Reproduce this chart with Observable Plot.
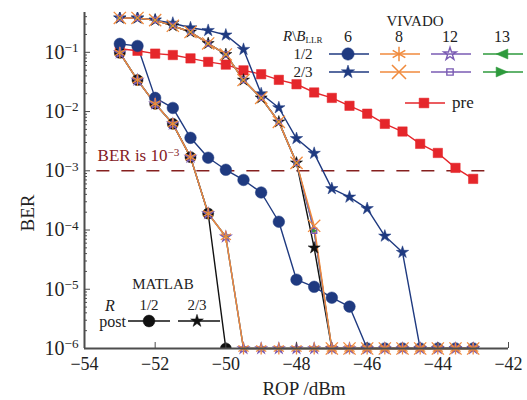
<!DOCTYPE html>
<html><head><meta charset="utf-8">
<script src="https://cdn.jsdelivr.net/npm/d3@7"></script>
<script src="https://cdn.jsdelivr.net/npm/@observablehq/plot@0.6"></script>
<style>
body{margin:0;background:#fff;}
#wrap{position:relative;width:527px;height:400px;font-family:"Liberation Serif",serif;}
#wrap svg{position:absolute;left:0;top:0;}
</style></head><body><div id="wrap"></div>
<script>
// ROP values (dBm)
const rop = [-53,-52.5,-52,-51.5,-51,-50.5,-50,-49.5,-49,-48.5,-48,-47.5,-47,-46.5,-46,-45.5,-45,-44.5,-44,-43.5,-43];
// pre-FEC BER
const pre = [0.115,0.106,0.095,0.090,0.079,0.069,0.062,0.0496,0.0427,0.0343,0.0289,0.021,0.0170,0.0125,0.0092,0.0062,0.0046,0.00285,0.0020,0.00112,0.00073];
// VIVADO, R = 1/2
const viv12_b6  = [0.139,0.128,0.0170,0.0115,0.0036,0.00166,0.00104,0.00070,0.00043,0.000138,1.45e-5,1.1e-5,7.2e-6,5.1e-6,1e-6,1e-6,1e-6,1e-6,1e-6,1e-6,1e-6];
const viv12_b8  = [0.098,0.034,0.0135,0.0062,0.0017,1.9e-4,7.7e-5,1e-6,1e-6,1e-6,1e-6,1e-6,1e-6,1e-6,1e-6,1e-6,1e-6,1e-6,1e-6,1e-6,1e-6];
const viv12_b12 = [0.098,0.034,0.0135,0.0062,0.0017,1.9e-4,7.7e-5,1e-6,1e-6,1e-6,1e-6,1e-6,1e-6,1e-6,1e-6,1e-6,1e-6,1e-6,1e-6,1e-6,1e-6];
const viv12_b13 = [0.098,0.034,0.0135,0.0062,0.0017,1.9e-4,7.7e-5,1e-6,1e-6,1e-6,1e-6,1e-6,1e-6,1e-6,1e-6,1e-6,1e-6,1e-6,1e-6,1e-6,1e-6];
// VIVADO, R = 2/3
const viv23_b6  = [0.38,0.38,0.35,0.31,0.26,0.234,0.196,0.112,0.020,0.0116,0.0035,0.00197,0.00050,0.00036,0.00023,7.9e-5,4.2e-5,1e-6,1e-6,1e-6,1e-6];
const viv23_b8  = [0.38,0.38,0.35,0.28,0.22,0.141,0.092,0.034,0.017,0.0067,0.00136,1.18e-4,1e-6,1e-6,1e-6,1e-6,1e-6,1e-6,1e-6,1e-6,1e-6];
const viv23_b12 = [0.38,0.38,0.35,0.28,0.22,0.141,0.092,0.034,0.017,0.0067,0.00136,9.7e-5,1e-6,1e-6,1e-6,1e-6,1e-6,1e-6,1e-6,1e-6,1e-6];
const viv23_b13 = [0.38,0.38,0.35,0.28,0.22,0.141,0.092,0.034,0.017,0.0067,0.00136,9.7e-5,1e-6,1e-6,1e-6,1e-6,1e-6,1e-6,1e-6,1e-6,1e-6];
// MATLAB post-FEC
const mat12 = [0.098,0.034,0.0135,0.0062,0.0017,1.9e-4,1e-6];
const mat23 = [0.38,0.38,0.35,0.28,0.22,0.141,0.092,0.034,0.017,0.0067,0.00136,5.0e-5,1e-6];
// axes
const xTicks = [-54,-52,-50,-48,-46,-44,-42];
const yMajor = [1e-1,1e-2,1e-3,1e-4,1e-5,1e-6];
const berLimit = 1e-3;
const berLimitRange = [-53.65,-42.5];
const berLabel = "BER is 10^−3";

const NAVY="#1f3a80", ORANGE="#f08a3c", PURPLE="#7a5bb3", GREEN="#2e9a3c", RED="#e5262b", DRED="#85201f", AX="#4d4d4d";

const triLeft = {draw(c,size){const s=Math.sqrt(size)*0.62;c.moveTo(-s,0);c.lineTo(s,-s*0.85);c.lineTo(s,s*0.85);c.closePath();}};
const triRight = {draw(c,size){const s=Math.sqrt(size)*0.62;c.moveTo(s,0);c.lineTo(-s,-s*0.85);c.lineTo(-s,s*0.85);c.closePath();}};

const series = [
  {v: pre, color: RED, symbol:"square", r:5.3, fill:RED, clip:false},
  {v: mat12, color:"#111", symbol:"circle", r:5.5, fill:"#111", clip:true},
  {v: mat23, color:"#111", symbol:"star", r:3.8, fill:"#111", clip:true},
  {v: viv12_b6, color:NAVY, symbol:"circle", r:5.8, fill:NAVY, clip:true},
  {v: viv23_b6, color:NAVY, symbol:"star", r:3.9, fill:NAVY, clip:true},
  {v: viv12_b13, color:GREEN, symbol:triLeft, r:2.4, fill:GREEN, clip:false},
  {v: viv23_b13, color:GREEN, symbol:triRight, r:2.4, fill:GREEN, clip:false},
  {v: viv12_b12, color:PURPLE, symbol:"star", r:3.2, fill:"none", clip:false},
  {v: viv23_b12, color:PURPLE, symbol:"square", r:2.9, fill:"none", clip:false},
  {v: viv12_b8, color:ORANGE, symbol:"asterisk", r:5.6, fill:"none", clip:false},
  {v: viv23_b8, color:ORANGE, symbol:"times", r:5.6, fill:"none", clip:false}
];

const yMinor = [];
for (let e=-6;e<=-1;e++) for (let m=2;m<=9;m++){const v=m*Math.pow(10,e); if (v<0.47) yMinor.push(v);}

const marks = [];
for (const s of series) {
  const data = s.v.map((y,i)=>({x:rop[i], y}));
  marks.push(Plot.line(data,{x:"x",y:"y",stroke:s.color,strokeWidth:1.4,clip:s.clip}));
}
for (const s of series) {
  const data = s.v.map((y,i)=>({x:rop[i], y}));
  marks.push(Plot.dot(data,{x:"x",y:"y",symbol:s.symbol,r:s.r,fill:s.fill,stroke:s.color,strokeWidth:s.fill==="none"?1.3:0.5,clip:s.clip}));
}

const chart = Plot.plot({
  width:527, height:400,
  marginLeft:84, marginRight:19, marginTop:12, marginBottom:52,
  style:{fontFamily:"Liberation Serif, serif", background:"transparent", color:"#222"},
  x:{domain:[-54,-42]},
  y:{type:"log", domain:[1e-6,0.47]},
  marks:[
    Plot.ruleY([berLimit],{x1:berLimitRange[0],x2:berLimitRange[1],stroke:DRED,strokeWidth:1.5,strokeDasharray:"13,12"}),
    Plot.text([berLabel],{x:-53.63,y:0.00179,text:d=>d,textAnchor:"start",fill:DRED,fontSize:17}),
    ...marks,
    Plot.axisX(xTicks,{tickSize:-6,tickPadding:15,fontSize:18,stroke:AX,fill:"#222",label:null}),
    Plot.axisY(yMajor,{tickSize:-6,tickPadding:12,fontSize:20,stroke:AX,fill:"#222",label:null,
      tickFormat:d=>"10^−"+Math.round(-Math.log10(d))}),
    Plot.axisY(yMinor,{tickSize:-3,tickFormat:()=>"",stroke:AX,label:null}),
    Plot.ruleX([-54],{stroke:AX,strokeWidth:2}),
    Plot.ruleY([1e-6],{stroke:AX,strokeWidth:2})
  ]
});
document.getElementById("wrap").appendChild(chart);

// superscripts
d3.select(chart).selectAll("text").each(function(){
  const t=this.textContent;
  if (t.includes("^")) {
    const [a,b]=t.split("^");
    const sel=d3.select(this); sel.text("");
    sel.append("tspan").text(a);
    sel.append("tspan").attr("dy","-0.5em").attr("font-size","0.66em").text(b);
  }
});

// overlay: axis titles and legends
const ov = d3.select("#wrap").append("svg").attr("width",527).attr("height",400)
  .style("font-family","Liberation Serif, serif").attr("fill","#222");
ov.append("text").attr("transform","translate(27,213) rotate(-90)").attr("text-anchor","middle")
  .attr("dominant-baseline","central").attr("font-size",19).text("BER");
ov.append("text").attr("x",304).attr("y",388).attr("text-anchor","middle")
  .attr("dominant-baseline","central").attr("font-size",19).text("ROP /dBm");

function sym(g,x,y,type,size,fill,stroke,sw){
  g.append("path").attr("transform",`translate(${x},${y})`)
   .attr("d",d3.symbol(type,size)()).attr("fill",fill).attr("stroke",stroke).attr("stroke-width",sw);
}
function legLine(x1,x2,y,color){
  ov.append("line").attr("x1",x1).attr("x2",x2).attr("y1",y).attr("y2",y).attr("stroke",color).attr("stroke-width",1.5);
}
function txt(x,y,s,size,anchor){
  return ov.append("text").attr("x",x).attr("y",y).attr("text-anchor",anchor||"middle")
   .attr("dominant-baseline","central").attr("font-size",size).text(s);
}
// VIVADO legend
txt(415,21,"VIVADO",15);
const hdr = ov.append("text").attr("x",283).attr("y",36).attr("dominant-baseline","central").attr("font-size",15);
hdr.append("tspan").attr("font-style","italic").text("R");
hdr.append("tspan").text("\\");
hdr.append("tspan").attr("font-style","italic").text("B");
hdr.append("tspan").attr("font-size",9).attr("dy","4").text("LLR");
const cols = [348,399,450,502];
["6","8","12","13"].forEach((s,i)=>txt(cols[i],36,s,16));
txt(303,54,"1/2",15); txt(303,72,"2/3",15);
const lg = ov.append("g");
const colColors=[NAVY,ORANGE,PURPLE,GREEN];
cols.forEach((cx,i)=>{legLine(cx-19,cx+21,54,colColors[i]); legLine(cx-19,cx+21,72,colColors[i]);});
sym(lg,348,54,d3.symbolCircle,120,NAVY,NAVY,0.5);
sym(lg,348,72,d3.symbolStar,55,NAVY,NAVY,0.5);
sym(lg,399,54,d3.symbolAsterisk,150,"none",ORANGE,1.5);
sym(lg,399,72,d3.symbolTimes,130,"none",ORANGE,1.5);
sym(lg,450,54,d3.symbolStar,50,"none",PURPLE,1.4);
sym(lg,450,72,d3.symbolSquare,40,"none",PURPLE,1.4);
sym(lg,502,54,triLeft,90,GREEN,GREEN,0.5);
sym(lg,502,72,triRight,90,GREEN,GREEN,0.5);
// pre legend
legLine(405,445,103,RED);
sym(lg,424,103,d3.symbolSquare,95,RED,RED,0.5);
txt(452,102,"pre",17,"start");
// MATLAB legend
txt(163,284,"MATLAB",15);
const rr = txt(110,305,"R",16); rr.attr("font-style","italic");
txt(149,305,"1/2",15); txt(197,305,"2/3",15);
txt(126,321,"post",16,"end");
legLine(128,170,321,"#111"); legLine(178,220,321,"#111");
sym(lg,149,321,d3.symbolCircle,110,"#111","#111",0.5);
sym(lg,197,321,d3.symbolStar,50,"#111","#111",0.5);
</script></body></html>
